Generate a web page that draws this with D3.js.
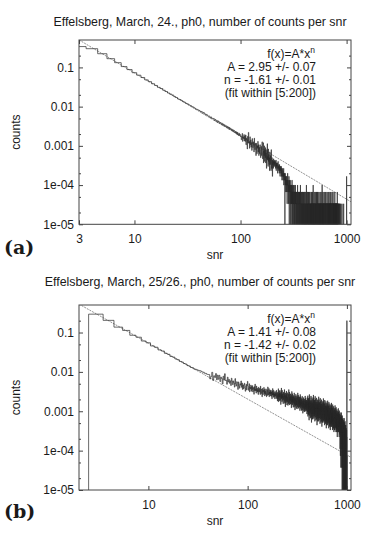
<!DOCTYPE html>
<html>
<head>
<meta charset="utf-8">
<script src="https://cdn.jsdelivr.net/npm/d3@7"></script>
<style>
body { margin: 0; background: #fff; }
svg text { font-family: "Liberation Sans", Arial, sans-serif; fill: #1a1a1a; }
</style>
</head>
<body>
<div id="box-div"></div>
<script>
// ---- panel (a): counts per snr bin, one bin per integer snr, first bin snr = 3
const countsA_lo = [
  10200, 9000, 6700, 5010, 3960, 3150, 2640, 2200,
  1900, 1660, 1440, 1300, 1150, 1040, 930, 870, 785, 730,
  668, 625, 590, 540, 512, 470, 455, 428, 402, 385,
  360, 350, 330, 318, 300, 292, 276, 262, 255, 246
]
const countsA_mid = [
  240, 224, 226, 204, 213, 199, 185, 190, 176, 171,
  172, 155, 163, 149, 146, 150, 134, 141, 127, 133,
  118, 129, 121, 112, 118, 106, 113, 101, 108, 97,
  103, 93, 98, 89, 94, 85, 91, 80, 88, 79,
  83, 75, 80, 72, 77, 68, 74, 71, 64, 70,
  62, 68, 58, 66, 60, 55, 63, 56, 59, 52
]
const countsA_hi = [
  54, 43, 49, 62, 39, 51, 46, 58, 40, 53,
  39, 57, 32, 47, 42, 25, 52, 36, 66, 35,
  38, 26, 51, 32, 42, 28, 36, 23, 46, 35,
  27, 38, 31, 21, 47, 29, 24, 35, 32, 17,
  35, 24, 19, 30, 26, 39, 21, 32, 17, 27,
  19, 27, 32, 20, 15, 24, 29, 17, 26, 38,
  26, 14, 20, 36, 11, 22, 17, 30, 12, 24,
  15, 27, 11, 20, 17, 8, 24, 14, 34, 13,
  16, 9, 25, 12, 18, 10, 15, 7, 21, 14,
  10, 17, 13, 7, 24, 11, 8, 15, 13, 5
]
const countsA_tail1 = [
  13, 10, 12, 8, 14, 11, 9, 12, 10, 13,
  9, 11, 12, 8, 10, 13, 7, 11, 9, 10,
  8, 11, 9, 6, 10, 12, 8, 9, 7, 10,
  8, 6, 10, 7, 9, 5, 8, 7, 9, 6,
  7, 9, 5, 8, 6, 4, 7, 8, 5, 6,
  7, 4, 6, 5, 8, 3, 6, 5, 4, 6,
  5, 0, 4, 6, 3, 5, 2, 4, 5, 3,
  4, 2, 5, 3, 1, 4, 3, 6, 2, 3,
  3, 4, 1, 3, 2, 5, 2, 0, 3, 4,
  2, 3, 1, 4, 2, 0, 3, 2, 1, 3,
  2, 1, 3, 0, 2, 4, 1, 2, 0, 3,
  1, 2, 2, 0, 3, 1, 2, 1, 0, 2,
  3, 1, 0, 2, 1, 2, 0, 1, 3, 1,
  2, 0, 1, 2, 1, 0, 2, 1, 1, 0,
  1, 2, 0, 1, 3, 1, 0, 2, 1, 1,
  0, 2, 1, 1, 0, 2, 1, 0, 1, 2,
  1, 0, 2, 1, 0, 1, 3, 1, 0, 1,
  2, 1, 0, 1, 1, 0, 2, 1, 0, 1,
  1, 2, 0, 1, 0, 1, 2, 0, 1, 1,
  0, 1, 2, 1, 0, 1, 0, 2, 1, 0
]
const countsA_tail2 = [
  1,0,1,2,0,1,0,0,1,1, 0,2,1,0,1,0,1,3,0,1, 1,0,0,1,2,0,1,1,0,0, 2,1,0,1,0,1,0,2,1,0,
  0,1,1,0,2,0,1,0,0,1, 1,0,2,1,0,0,1,0,1,0, 0,1,0,1,1,0,2,0,1,1, 1,0,1,0,0,2,0,1,0,1,
  0,1,0,3,0,1,1,0,1,0, 1,0,1,0,2,0,0,1,0,1, 0,1,0,1,0,1,2,0,0,1, 1,0,1,1,0,0,1,0,2,0,
  0,1,0,0,1,2,0,1,0,1, 1,0,2,0,1,0,0,1,1,0, 0,1,0,1,0,0,2,0,1,0, 1,0,1,0,1,1,0,0,1,0,
  0,2,0,1,0,1,0,1,0,0, 1,0,0,1,2,0,1,0,0,1, 0,1,1,0,0,1,0,3,0,1, 1,0,0,1,0,1,0,0,2,0,
  0,1,0,0,1,0,1,0,1,0, 1,0,1,0,0,2,0,0,1,0, 0,0,1,1,0,1,0,0,0,1, 1,0,0,2,0,0,1,0,1,0,
  0,1,0,0,1,0,0,1,0,1, 1,0,2,0,0,1,0,1,0,0, 0,1,0,1,0,0,1,0,0,2, 1,0,0,1,0,1,0,0,1,0,
  0,0,1,0,2,0,1,0,0,1, 1,0,0,1,0,0,1,1,0,0, 0,1,0,0,1,0,2,0,0,1, 1,0,1,0,0,1,0,0,1,0,
  0,0,1,0,1,0,0,2,0,1, 1,0,0,1,0,0,1,0,1,0, 0,1,0,0,2,0,0,1,0,0, 1,0,1,0,0,1,0,0,1,0,
  0,0,1,0,1,0,0,1,0,1, 1,0,0,2,0,0,1,0,0,1, 0,1,0,0,1,0,1,0,0,0, 1,0,0,1,0,0,0,1,0,1,
  0,1,0,0,1,0,0,1,0,0, 1,0,0,0,1,0,2,0,0,1, 0,0,1,0,0,1,0,0,1,0, 0,0,0,1,0,0,0,0,0,0,
  0,1,0,0,0,0,0,0,1,0, 0,0,0,0,0,1,0,0,0,0, 0,0,0,0,0,0,0,1,0,0, 0,0,0,0,0,0,0,0,0,0,
  0,1,0,0,0,0,0,0,0,0, 0,0,0,0,0,0,0,0,0,0, 0,0,0,0,1,0,0,0,0,0, 0,0,0,0,0,0,0,0,0,0,
  0,0,0,0,0,0,0,0,0,0, 0,0,0,0,0,0,0,1,0,0, 0,0,0,0,0,0,0,0,0,0, 0,0,0,0,0,0,0,0,0,0,
  0,0,0,0,0,0,0,0,0,0, 0,0,0,0,0,0,0,0,0,0, 0,0,0,0,0,0,0,0,0,0, 0,0,0,0,0,0,0,0,0,5
]
const totalA = 30000

// ---- panel (b)
const countsB_lo = [
  7900, 5500, 3700, 3050, 2300, 2050, 1640, 1480,
  1230, 1140, 975, 915, 800, 755, 668, 640, 575, 550,
  498, 480, 440, 425, 390, 380, 350, 345, 322, 315,
  305, 296, 290, 282, 268, 265, 250, 247, 236, 232
]
const countsB_mid = [
  230, 180, 207, 263, 164, 215, 195, 244, 170, 224,
  176, 221, 154, 198, 183, 134, 209, 167, 242, 163,
  166, 131, 198, 150, 174, 139, 160, 122, 186, 157,
  128, 159, 141, 111, 182, 135, 118, 152, 144, 97,
  150, 119, 104, 135, 124, 159, 110, 141, 97, 127,
  100, 125, 139, 105, 87, 117, 131, 94, 122, 155
]
const countsB_hi = [
  118, 92, 106, 135, 84, 110, 100, 125, 87, 114,
  96, 121, 84, 108, 100, 73, 114, 91, 132, 89,
  99, 78, 118, 89, 104, 83, 95, 72, 110, 93,
  83, 103, 91, 72, 117, 87, 76, 98, 93, 63,
  103, 82, 71, 92, 85, 109, 76, 97, 66, 87,
  72, 90, 100, 76, 63, 85, 95, 68, 88, 112,
  89, 70, 80, 102, 63, 83, 75, 94, 66, 86,
  74, 93, 65, 83, 77, 56, 88, 70, 102, 69,
  77, 61, 92, 70, 81, 64, 74, 56, 86, 73,
  65, 80, 71, 56, 92, 68, 60, 77, 72, 49
]
const countsB_tail1 = [
  82, 55, 69, 101, 47, 73, 62, 90, 50, 78,
  62, 91, 51, 76, 67, 40, 83, 58, 105, 56,
  69, 47, 92, 59, 75, 51, 65, 42, 83, 63,
  54, 77, 63, 43, 96, 59, 48, 71, 65, 35,
  79, 55, 44, 67, 59, 88, 48, 73, 39, 61,
  47, 68, 80, 51, 38, 61, 73, 42, 65, 96,
  68, 45, 57, 83, 39, 60, 51, 74, 41, 64,
  51, 75, 42, 62, 55, 33, 68, 47, 86, 46,
  57, 39, 75, 48, 62, 42, 54, 34, 68, 52,
  45, 63, 52, 35, 79, 48, 40, 59, 54, 29,
  66, 45, 36, 56, 49, 73, 40, 60, 32, 50,
  39, 57, 67, 42, 31, 50, 61, 35, 54, 79,
  57, 38, 48, 69, 32, 50, 43, 62, 34, 54,
  43, 63, 35, 52, 46, 28, 57, 40, 72, 38,
  47, 32, 63, 40, 52, 35, 45, 28, 57, 43,
  37, 52, 43, 29, 65, 40, 33, 49, 44, 24,
  55, 38, 30, 46, 41, 60, 33, 50, 27, 42,
  32, 47, 55, 35, 26, 42, 50, 29, 45, 66,
  47, 31, 40, 58, 27, 42, 36, 51, 28, 45,
  35, 52, 29, 43, 38, 23, 47, 33, 60, 32
]
const countsB_tail2 = [
  48,26,37,67,20,41,31,56,22,44, 32,58,23,43,36,16,50,29,72,27, 39,21,60,30,44,25,36,18,51,34,
  28,47,35,19,66,32,23,42,37,14, 51,29,20,39,32,60,24,44,17,34, 23,42,54,27,17,35,47,20,39,70,
  43,23,33,59,18,36,28,50,20,40, 29,52,21,39,33,15,46,26,65,24, 35,19,54,27,40,22,32,16,46,30,
  25,42,31,17,59,28,20,37,33,12, 46,26,18,35,29,53,21,40,15,31, 21,38,48,24,15,32,42,18,35,63,
  38,21,30,53,16,32,25,44,18,35, 26,46,19,35,29,13,41,23,58,22, 31,17,48,24,36,20,29,14,41,27,
  22,38,28,15,53,25,18,34,29,11, 41,23,17,32,26,48,19,36,14,28, 19,34,43,22,14,28,38,16,31,57,
  34,19,27,48,15,29,23,40,16,32, 23,42,17,31,26,12,36,21,52,20, 28,15,43,22,32,18,26,13,37,24,
  20,34,25,14,48,23,16,30,26,10, 37,21,15,28,23,43,17,32,12,25, 17,30,38,19,12,25,34,14,28,50,
  31,16,24,42,13,26,20,35,14,28, 21,37,15,28,23,10,32,18,46,17, 25,14,38,19,28,16,23,11,33,21,
  18,30,22,12,42,20,14,26,23,9, 32,18,13,25,20,38,15,28,11,22, 15,26,34,17,11,22,29,13,24,44,
  27,14,21,37,11,23,17,31,12,25, 18,32,13,24,20,9,28,16,40,15, 21,12,33,17,24,14,20,10,28,19,
  15,26,19,10,36,17,12,23,20,8, 28,16,11,21,18,32,13,24,9,19, 13,23,29,14,9,19,25,11,21,38,
  23,12,18,32,10,19,15,26,11,21, 15,27,11,20,17,8,24,14,34,13, 18,10,28,14,21,12,17,8,24,16,
  13,22,16,9,30,14,10,19,17,6, 23,13,9,18,15,27,11,20,8,16, 11,19,24,12,8,16,21,9,17,32,
  19,10,15,26,8,16,12,22,9,17, 13,22,9,17,14,6,20,11,28,11, 15,8,23,11,17,9,14,7,20,13,
  10,18,13,3,25,12,8,16,14,2, 19,11,4,14,12,22,9,16,1,13, 8,15,19,10,2,13,17,7,14,25,
  14,8,11,20,1,12,9,17,3,13, 9,17,7,13,11,0,15,8,21,4, 11,3,17,9,12,1,10,5,15,0,
  8,13,10,2,18,9,0,11,10,1, 14,8,0,10,9,16,2,12,0,9, 6,11,14,0,4,9,12,1,10,18,
  10,0,8,14,2,9,0,12,5,10, 7,12,0,9,8,1,11,0,15,6, 8,0,12,6,9,0,7,2,10,0,
  5,9,0,4,12,0,4,8,0,3, 9,0,4,7,0,10,0,8,3,0, 4,0,9,0,3,6,0,2,0,5400
]
const totalB = 27000

const firstSnr = 3
const yTickValues = [1e-5, 1e-4, 1e-3, 1e-2, 1e-1]
const yTickLabels = ['1e-05', '1e-04', '0.001', '0.01', '0.1']
const yMinorMantissa = [2, 5]

let dms = { width: 374, height: 534, left: 79, right: 351 }

const panels = [
  {
    id: 'a', top: 40, bottom: 224.3, xDomain: [3, 1100], xTicks: [3, 10, 100, 1000],
    title: 'Effelsberg, March, 24., ph0, number of counts per snr',
    counts: [].concat(countsA_lo, countsA_mid, countsA_hi, countsA_tail1, countsA_tail2),
    total: totalA, fitA: 2.95, fitN: -1.61,
    fitText: ['A = 2.95 +/- 0.07', 'n = -1.61 +/- 0.01', '(fit within [5:200])'],
    label: '(a)', labelY: 254, titleY: 26, snrY: 259
  },
  {
    id: 'b', top: 305, bottom: 490, xDomain: [2, 1100], xTicks: [10, 100, 1000],
    title: 'Effelsberg, March, 25/26., ph0, number of counts per snr',
    counts: [].concat(countsB_lo, countsB_mid, countsB_hi, countsB_tail1, countsB_tail2),
    total: totalB, fitA: 1.41, fitN: -1.42,
    fitText: ['A = 1.41 +/- 0.08', 'n = -1.42 +/- 0.02', '(fit within [5:200])'],
    label: '(b)', labelY: 518, titleY: 286, snrY: 525
  }
]

const box = d3.select('#box-div').append('svg')
  .attr('width', dms.width)
  .attr('height', dms.height)

// minor ticks inside a log domain
const minorTicks = (domain) => {
  const out = []
  for (let e = -6; e <= 4; e++) {
    yMinorMantissa.forEach(m => {
      const v = m * Math.pow(10, e)
      if (v > domain[0] && v < domain[1]) out.push(v)
    })
  }
  return out
}

const drawPanel = (p) => {
  const g = box.append('g').attr('id', 'panel-' + p.id)

  const xScale = d3.scaleLog().domain(p.xDomain).range([dms.left, dms.right])
  const yScale = d3.scaleLog().domain([1e-5, 0.5]).range([p.bottom, p.top])

  g.append('clipPath').attr('id', 'clip-' + p.id)
    .append('rect')
    .attr('x', dms.left).attr('y', p.top)
    .attr('width', dms.right - dms.left).attr('height', p.bottom - p.top)

  // histeps: step edges half way between integer snr bins
  const pts = []
  p.counts.forEach((c, i) => {
    const s = firstSnr + i
    const v = c / p.total
    if (i === 0) pts.push([s - 0.5, 0])
    pts.push([s - 0.5, v])
    pts.push([s + 0.5, v])
  })
  pts.push([firstSnr + p.counts.length - 0.5, 0])

  const yv = v => v > 0 ? yScale(v) : p.bottom + 3
  const line = d3.line().x(d => xScale(d[0])).y(d => yv(d[1]))

  const plot = g.append('g').attr('clip-path', `url(#clip-${p.id})`)

  // fitted power law f(x) = A * x^n
  plot.append('path')
    .attr('d', line(p.xDomain.map(x => [x, p.fitA * Math.pow(x, p.fitN)])))
    .attr('fill', 'none')
    .attr('stroke', '#777')
    .attr('stroke-width', 0.8)
    .attr('stroke-dasharray', '2,1')

  plot.append('path')
    .attr('d', line(pts))
    .attr('fill', 'none')
    .attr('stroke', '#2a2a2a')
    .attr('stroke-width', 0.7)

  // axes with inward ticks on all four sides
  const yMinor = minorTicks([1e-5, 0.5])
  const axes = [
    { ax: d3.axisLeft(yScale), tr: `translate(${dms.left},0)`, major: yTickValues, minor: yMinor, lab: true },
    { ax: d3.axisRight(yScale), tr: `translate(${dms.right},0)`, major: yTickValues, minor: yMinor, lab: false },
    { ax: d3.axisBottom(xScale), tr: `translate(0,${p.bottom})`, major: p.xTicks, minor: [], lab: true },
    { ax: d3.axisTop(xScale), tr: `translate(0,${p.top})`, major: p.xTicks, minor: [], lab: false }
  ]
  axes.forEach((a, k) => {
    const major = g.append('g').attr('class', 'axis').attr('transform', a.tr)
      .call(a.ax.tickValues(a.major).tickSize(-4).tickPadding(k === 2 ? 10 : 5)
        .tickFormat(a.lab ? (k === 0 ? (d, i) => yTickLabels[i] : d3.format('d')) : () => ''))
    major.select('.domain').remove()
    major.selectAll('.tick line').attr('stroke', '#444')
    major.selectAll('.tick text').attr('font-size', 12).attr('font-family', null).attr('fill', '#1a1a1a')
    const minor = g.append('g').attr('transform', a.tr)
      .call(a.ax.tickValues(a.minor).tickSize(-2).tickFormat(() => ''))
    minor.select('.domain').remove()
    minor.selectAll('.tick line').attr('stroke', '#444')
  })

  // frame
  g.append('rect')
    .attr('x', dms.left).attr('y', p.top)
    .attr('width', dms.right - dms.left).attr('height', p.bottom - p.top)
    .attr('fill', 'none')
    .attr('stroke', '#444')
    .attr('stroke-width', 1)

  // title
  g.append('text')
    .attr('x', 200).attr('y', p.titleY)
    .attr('text-anchor', 'middle')
    .attr('font-size', 12.4)
    .text(p.title)

  // axis titles
  g.append('text')
    .attr('x', (dms.left + dms.right) / 2).attr('y', p.snrY)
    .attr('text-anchor', 'middle')
    .attr('font-size', 12)
    .text('snr')
  g.append('text')
    .attr('transform', `translate(20, ${(p.top + p.bottom) / 2}) rotate(-90)`)
    .attr('text-anchor', 'middle')
    .attr('font-size', 12)
    .text('counts')

  // fit legend
  const fit = g.append('text')
    .attr('x', 315).attr('y', p.top + 18)
    .attr('text-anchor', 'end')
    .attr('font-size', 12)
  fit.append('tspan').text('f(x)=A*x')
  fit.append('tspan').attr('dy', -5).attr('font-size', 8.5).text('n')
  p.fitText.forEach((t, i) => {
    g.append('text')
      .attr('x', 316).attr('y', p.top + 31 + i * 13)
      .attr('text-anchor', 'end')
      .attr('font-size', 12)
      .text(t)
  })

  // panel letter
  g.append('text')
    .attr('x', 4).attr('y', p.labelY)
    .attr('font-size', 19)
    .attr('font-weight', 'bold')
    .style('font-family', '"DejaVu Serif", serif')
    .text(p.label)
}

panels.forEach(drawPanel)
</script>
</body>
</html>
